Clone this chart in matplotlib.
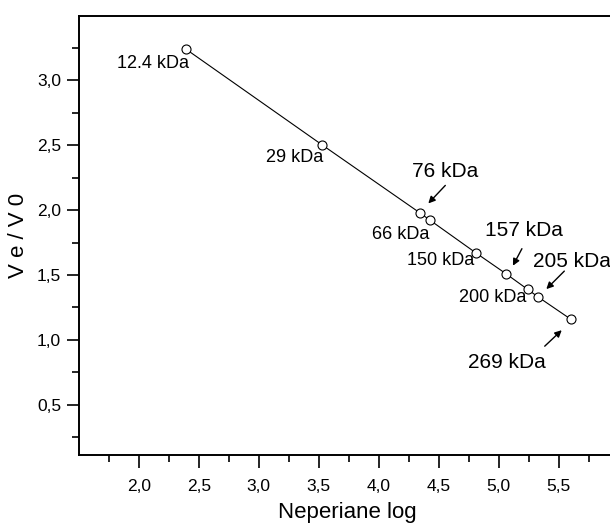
import matplotlib
matplotlib.use("Agg")
import matplotlib.pyplot as plt
from matplotlib.ticker import MultipleLocator, FuncFormatter
from matplotlib.transforms import offset_copy

plt.rcParams['font.family'] = ['Liberation Sans', 'DejaVu Sans']

# Datos
proteinas = ['12.4 kDa', '29 kDa', '66 kDa', '76 kDa', '150 kDa',
             '157 kDa', '200 kDa', '205 kDa', '269 kDa']
ln_peso = [2.39, 3.53, 4.34, 4.43, 4.81, 5.06, 5.24, 5.33, 5.60]
ve_v0 = [3.24, 2.50, 1.98, 1.92, 1.67, 1.51, 1.39, 1.33, 1.16]

# Posicion de las etiquetas (desplazamiento en pixeles respecto al punto)
# (dx_texto, dy_texto, tamano, flecha_cola, flecha_punta)
etiquetas = {
    '12.4 kDa': (-33, -15, 13, None, None),
    '29 kDa': (-28, -12, 13, None, None),
    '66 kDa': (-19, -22, 13, None, None),
    '76 kDa': (15, 49, 15, (15, 35), (-2, 17)),
    '150 kDa': (-35, -8, 13, None, None),
    '157 kDa': (18, 43, 15, (16, 25), (7, 8)),
    '200 kDa': (-35, -8, 13, None, None),
    '205 kDa': (34, 36, 15, (26, 26), (8, 8)),
    '269 kDa': (-64, -43, 15, (-26, -27), (-9, -11)),
}

fig = plt.figure(figsize=(6.10, 5.27), dpi=100)
# el eje derecho queda fuera de la imagen, como en el original
ax = fig.add_axes([0.130, 0.1366, 0.8784, 0.8336])

ax.plot(ln_peso, ve_v0, color='black', lw=0.8, marker='o', markersize=6.5,
        markerfacecolor='white', markeredgecolor='black', markeredgewidth=0.8,
        zorder=3)

for nombre, x, y in zip(proteinas, ln_peso, ve_v0):
    dx, dy, tam, cola, punta = etiquetas[nombre]
    ax.annotate(nombre, xy=(x, y), xytext=(dx, dy), textcoords='offset pixels',
                ha='center', va='center', fontsize=tam, zorder=4)
    if cola is not None:
        t_cola = offset_copy(ax.transData, fig=fig, x=cola[0], y=cola[1], units='dots')
        t_punta = offset_copy(ax.transData, fig=fig, x=punta[0], y=punta[1], units='dots')
        ax.annotate('', xy=(x, y), xycoords=t_punta, xytext=(x, y), textcoords=t_cola,
                    arrowprops=dict(arrowstyle='-|>', color='black', lw=1,
                                    mutation_scale=10, shrinkA=0, shrinkB=0))

ax.set_xlim(1.505, 5.97)
ax.set_ylim(0.115, 3.495)

coma = FuncFormatter(lambda v, pos: f"{v:.1f}".replace('.', ','))
ax.xaxis.set_major_locator(MultipleLocator(0.5))
ax.xaxis.set_minor_locator(MultipleLocator(0.25))
ax.yaxis.set_major_locator(MultipleLocator(0.5))
ax.yaxis.set_minor_locator(MultipleLocator(0.25))
ax.xaxis.set_major_formatter(coma)
ax.yaxis.set_major_formatter(coma)

ax.tick_params(which='major', direction='out', length=9, width=1.2, labelsize=12.5)
ax.tick_params(which='minor', direction='out', length=5, width=1.2)
ax.tick_params(axis='x', pad=8)
ax.tick_params(axis='y', pad=4)
ax.tick_params(top=False, right=False, which='both')

for lado in ['left', 'bottom', 'top', 'right']:
    ax.spines[lado].set_linewidth(1.4)

ax.set_xlabel('Neperiane log', fontsize=16, labelpad=6)
ax.set_ylabel('V e / V 0', fontsize=16, labelpad=6)

plt.savefig('out.png', dpi=100)
plt.close()
